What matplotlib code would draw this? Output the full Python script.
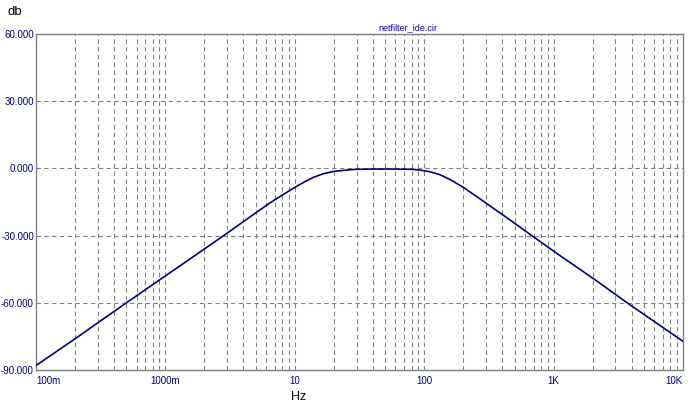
import matplotlib
matplotlib.use("Agg")
import matplotlib.pyplot as plt
from matplotlib.ticker import FixedLocator, NullFormatter

# frequency response (Hz, dB)
freq = [0.1, 0.2, 0.48, 0.91, 1.21, 2.79, 5.0, 6.43, 7.46, 8.66, 10.05, 11.64,
        13.9, 16.6, 19.9, 26.7, 30, 40, 60, 80, 92.9, 111, 132, 158, 200, 270,
        304, 460, 697, 966, 1119, 2089, 3894, 10000]
gain = [-88.0, -76.1, -60.7, -49.6, -44.7, -30.2, -19.8, -15.4, -13.0, -10.7,
        -8.4, -6.3, -4.0, -2.4, -1.35, -0.6, -0.4, -0.3, -0.3, -0.4, -0.76,
        -1.5, -2.8, -4.9, -8.4, -13.6, -15.7, -23.0, -30.5, -36.3, -38.9,
        -49.7, -60.9, -77.2]

ytick_vals = [60, 30, 0, -30, -60, -90]
ytick_text = ["60.000", "30.000", "0.000", "-30.000", "-60.000", "-90.000"]
xtick_vals = [0.1, 1, 10, 100, 1000, 10000]
xtick_text = ["100m", "1000m", "10", "100", "1K", "10K"]

W, H = 691, 409
fig = plt.figure(figsize=(W / 100, H / 100), dpi=100)
ax = fig.add_axes([36 / W, (H - 370) / H, (683 - 36) / W, (370 - 34) / H])

ax.set_xscale("log")
ax.set_xlim(0.1, 10000)
ax.set_ylim(-90, 60)

grid_kw = dict(color="#808080", lw=0.8, dashes=(4, 3))
minor = [m * 10.0 ** e for e in range(-1, 4) for m in range(2, 10)]
for xv in minor + xtick_vals[1:-1]:
    ax.axvline(xv, **grid_kw, zorder=1)
for yv in ytick_vals[1:-1]:
    ax.axhline(yv, **grid_kw, zorder=1)

ax.plot(freq, gain, color="#000080", lw=1.2, zorder=3)

for s in ax.spines.values():
    s.set_color("#808080")
    s.set_linewidth(1.0)

ax.xaxis.set_major_locator(FixedLocator([]))
ax.xaxis.set_minor_locator(FixedLocator([]))
ax.xaxis.set_minor_formatter(NullFormatter())
ax.set_yticks(ytick_vals)
ax.set_yticklabels(ytick_text)
ax.tick_params(axis="y", length=0, pad=1.5, labelsize=7, labelcolor="#000080")
for t in ax.get_yticklabels():
    t.set_fontfamily("Liberation Sans")

tf = ax.get_xaxis_transform()
for i, (xv, lab) in enumerate(zip(xtick_vals, xtick_text)):
    ha = "left" if i == 0 else ("right" if i == len(xtick_vals) - 1 else "center")
    ax.text(xv, -0.018, lab, transform=tf, ha=ha, va="top", fontsize=7,
            color="#000080", family="Liberation Sans")

fig.text(7 / W, 1 - 12 / H, "db", fontsize=9.5, color="black",
         family="Liberation Sans", va="center", ha="left")
fig.text(299 / W, 1 - 397 / H, "Hz", fontsize=9, color="black",
         family="Liberation Sans", va="center", ha="center")
fig.text(408 / W, 1 - 28 / H, "netfilter_ide.cir", fontsize=6.5, color="#0000C0",
         family="Liberation Sans", va="center", ha="center")

fig.savefig("out.png", dpi=100)
